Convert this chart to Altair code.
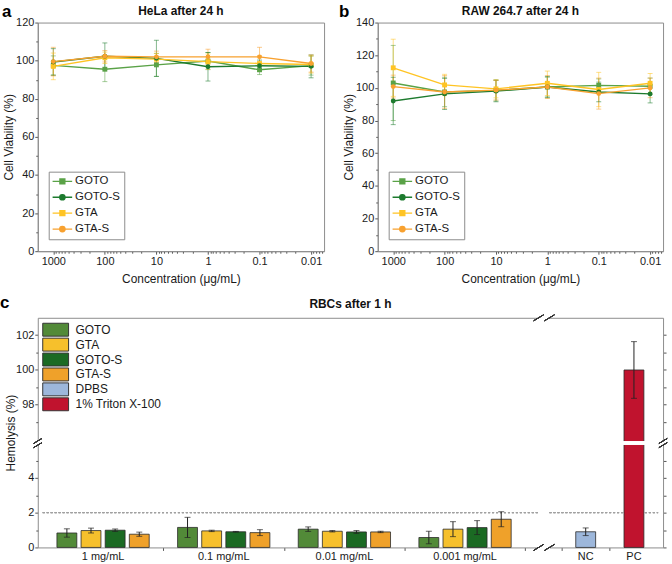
import altair as alt
import pandas as pd

FONT = "Liberation Sans"
FRAME = "#8c8c8c"
INK = "#1a1a1a"

# ---------------------------------------------------------------- viability
concentrations = [1000, 100, 10, 1, 0.1, 0.01]
series_names = ["GOTO", "GOTO-S", "GTA", "GTA-S"]
series_colors = ["#5aa247", "#1d7b2e", "#ffc424", "#f8a12f"]
square_series = ["GOTO", "GTA"]

# HeLa, 24 h (mean and s.d., %)
hela_goto = [97.5, 95.5, 97.8, 99.8, 95.2, 97.4]
hela_goto_sd = [5.0, 6.5, 6.0, 4.5, 2.5, 5.0]
hela_goto_s = [99.3, 102.3, 101.2, 96.8, 97.3, 97.0]
hela_goto_s_sd = [7.0, 7.0, 9.5, 7.5, 3.0, 6.0]
hela_gta = [97.0, 101.5, 100.8, 99.5, 98.5, 98.0]
hela_gta_sd = [7.0, 3.0, 3.0, 4.0, 4.0, 4.5]
hela_gta_s = [99.5, 102.3, 102.0, 102.0, 102.0, 98.5]
hela_gta_s_sd = [7.5, 3.0, 3.0, 4.0, 5.0, 4.5]

# RAW 264.7, 24 h (mean and s.d., %)
raw_goto = [103.0, 97.5, 98.5, 100.5, 101.5, 101.0]
raw_goto_sd = [23.0, 9.0, 6.5, 6.0, 4.0, 5.0]
raw_goto_s = [92.0, 96.3, 98.0, 100.5, 97.5, 96.3]
raw_goto_s_sd = [14.5, 9.5, 6.5, 6.5, 6.0, 5.5]
raw_gta = [112.3, 101.8, 99.4, 102.8, 99.0, 102.8]
raw_gta_sd = [17.5, 6.5, 5.5, 7.5, 10.5, 6.0]
raw_gta_s = [100.8, 97.5, 98.6, 100.5, 96.5, 100.0]
raw_gta_s_sd = [7.0, 10.0, 6.0, 7.0, 9.5, 6.0]

# ---------------------------------------------------------------- hemolysis
dose_labels = ["1 mg/mL", "0.1 mg/mL", "0.01 mg/mL", "0.001 mg/mL"]
control_labels = ["NC", "PC"]
hemo_series = ["GOTO", "GTA", "GOTO-S", "GTA-S"]
control_series = ["DPBS", "1% Triton X-100"]
hemo_colors = ["#528a38", "#f6c02c", "#1b6a23", "#efa12a", "#9db7db", "#c0132e"]

hemo_goto = [0.83, 1.15, 1.05, 0.57]
hemo_goto_sd = [0.24, 0.58, 0.13, 0.36]
hemo_gta = [0.97, 0.95, 0.93, 1.05]
hemo_gta_sd = [0.14, 0.04, 0.04, 0.43]
hemo_goto_s = [0.99, 0.90, 0.89, 1.14]
hemo_goto_s_sd = [0.07, 0.02, 0.08, 0.40]
hemo_gta_s = [0.76, 0.85, 0.89, 1.62]
hemo_gta_s_sd = [0.12, 0.17, 0.04, 0.43]
control_mean = [0.90, 100.0]
control_sd = [0.22, 1.63]

# panel sizes (plot areas)
H_TOP = 230
W_A = 288
W_B = 287
W_C = 629
H_C = 231

# broken y axis of the hemolysis panel: values above BREAK_AT are shifted down
BREAK_AT = 6.0
SHIFT = 89.8
Y_TOP_C = 103.0 - SHIFT
GAP_LO, GAP_HI = 20.55, 21.0   # x-axis break between doses and controls


def viability_frame(means, sds):
    rows = []
    for name, m, s in zip(series_names, means, sds):
        for c, v, e in zip(concentrations, m, s):
            rows.append({"series": name, "conc": c, "mean": v, "lo": v - e, "hi": v + e})
    return pd.DataFrame(rows)


hela_df = viability_frame([hela_goto, hela_goto_s, hela_gta, hela_gta_s],
                          [hela_goto_sd, hela_goto_s_sd, hela_gta_sd, hela_gta_s_sd])
raw_df = viability_frame([raw_goto, raw_goto_s, raw_gta, raw_gta_s],
                         [raw_goto_sd, raw_goto_s_sd, raw_gta_sd, raw_gta_s_sd])

# minor ticks of the log axis (2..9 x each decade)
minor_log = [k * 10.0 ** e for e in range(-3, 3) for k in range(2, 10)]
minor_log = [v for v in minor_log if 0.0056 <= v <= 2000]

SQ_KEY = "M-2.2,0H2.2M-0.55,-0.55H0.55V0.55H-0.55Z"
CI_KEY = "M-2.2,0H2.2M0.6,0A0.6,0.6,0,1,1,-0.6,0A0.6,0.6,0,1,1,0.6,0Z"
key_paths = [SQ_KEY, CI_KEY, SQ_KEY, CI_KEY]


def heading(letter, title, width, tag_dx, tag_base, title_y):
    """Bold panel letter at the top-left and the panel title centred above the plot."""
    one = pd.DataFrame({"tag": [letter], "title": [title]})
    tag = alt.Chart(one).mark_text(
        font=FONT, fontSize=17, fontWeight="bold", align="left", baseline="alphabetic",
        color="#000"
    ).encode(text="tag:N", x=alt.value(tag_dx), y=alt.value(tag_base))
    head = alt.Chart(one).mark_text(
        font=FONT, fontSize=12, fontWeight="bold", align="center", baseline="middle",
        color="#111"
    ).encode(text="title:N", x=alt.value(width / 2), y=alt.value(title_y))
    return [tag, head]


def viability_panel(df, title, ymax, letter, width, tag_dx):
    xs = alt.Scale(type="log", domain=[0.0056, 2000], reverse=True, nice=False)
    ys = alt.Scale(domain=[0, ymax], nice=False)
    cs = alt.Scale(domain=series_names, range=series_colors)
    color_plain = alt.Color("series:N", scale=cs, legend=None)
    x_plain = alt.X("conc:Q", scale=xs, axis=None)
    y_plain = alt.Y("mean:Q", scale=ys, axis=None)
    base = alt.Chart(df)

    key_legend = alt.Legend(
        title=None, orient="none", legendX=11, legendY=150, strokeColor=FRAME, padding=4,
        labelFontSize=11.5, symbolSize=80, symbolStrokeWidth=1.4, rowPadding=3,
        symbolOffset=4, labelOffset=7,
    )

    # legend entries only (no rows reach the plot)
    key = base.transform_filter("false").mark_point(
        filled=True, opacity=1, strokeWidth=1.4
    ).encode(
        x=x_plain, y=y_plain,
        color=alt.Color("series:N", scale=cs, legend=key_legend),
        stroke=alt.Stroke("series:N", scale=cs, legend=key_legend),
        shape=alt.Shape("series:N", scale=alt.Scale(domain=series_names, range=key_paths),
                        legend=key_legend),
    )

    whiskers = base.mark_rule(strokeWidth=1, opacity=0.55).encode(
        x=alt.X("conc:Q", scale=xs, axis=alt.Axis(
            orient="bottom", values=minor_log, labels=False, domain=False,
            tickSize=2, title=None, grid=False)),
        y=alt.Y("lo:Q", scale=ys, axis=alt.Axis(
            orient="left", values=list(range(10, ymax, 20)), labels=False,
            domain=False, tickSize=2, title=None, grid=False)),
        y2="hi:Q",
        color=color_plain,
    )
    caps = base.transform_fold(["lo", "hi"], as_=["end", "val"]).mark_tick(
        orient="horizontal", size=5, thickness=1, opacity=0.55
    ).encode(x=x_plain, y=alt.Y("val:Q", scale=ys, axis=None), color=color_plain)

    lines = base.mark_line(strokeWidth=1.4).encode(
        x=alt.X("conc:Q", scale=xs, title="Concentration (μg/mL)", axis=alt.Axis(
            orient="bottom", values=concentrations, format="~g", tickSize=3,
            grid=False, labelFlush=False, titlePadding=8)),
        y=alt.Y("mean:Q", scale=ys, title="Cell Viability (%)", axis=alt.Axis(
            orient="left", values=list(range(0, ymax + 1, 20)), tickSize=3, grid=False)),
        color=color_plain,
    )
    squares = base.transform_filter(
        alt.FieldOneOfPredicate(field="series", oneOf=square_series)
    ).mark_point(shape="square", filled=True, size=24, opacity=1).encode(
        x=x_plain, y=y_plain, color=color_plain)
    circles = base.transform_filter(
        {"not": alt.FieldOneOfPredicate(field="series", oneOf=square_series)}
    ).mark_point(shape="circle", filled=True, size=24, opacity=1).encode(
        x=x_plain, y=y_plain, color=color_plain)

    return alt.layer(
        key, whiskers, caps, lines, squares, circles,
        *heading(letter, title, width, tag_dx, -6, -12),
    ).resolve_axis(x="independent", y="independent").properties(
        width=width, height=H_TOP
    )


panel_a = viability_panel(hela_df, "HeLa after 24 h", 120, "a", W_A, -36)
panel_b = viability_panel(raw_df, "RAW 264.7 after 24 h", 140, "b", W_B, -39)

# ---------------------------------------------------------------- hemolysis panel
hemo_rows = []
for g, label in enumerate(dose_labels):
    for slot, (name, means, sds) in enumerate(zip(
            hemo_series,
            [hemo_goto, hemo_gta, hemo_goto_s, hemo_gta_s],
            [hemo_goto_sd, hemo_gta_sd, hemo_goto_s_sd, hemo_gta_s_sd])):
        hemo_rows.append({"sample": name, "g": g, "slot": slot, "mean": means[g], "sd": sds[g]})
for i, name in enumerate(control_series):
    hemo_rows.append({"sample": name, "g": len(dose_labels) + i, "slot": 0,
                      "mean": control_mean[i], "sd": control_sd[i]})
hemo_df = pd.DataFrame(hemo_rows)

group_df = pd.DataFrame({"label": dose_labels + control_labels,
                         "g": list(range(len(dose_labels) + len(control_labels)))})

# x layout: 5 units per dose group (bars at 1..4), then the break, then 2 units per control
POS = "datum.g < 4 ? 5 * datum.g + datum.slot + 1 : 21.5 + 2 * (datum.g - 4) + 1"


def brk(e):
    return f"({e}) > {BREAK_AT} ? ({e}) - {SHIFT} : ({e})"


xs_c = alt.Scale(domain=[0, 25.5], nice=False, zero=False)
ys_c = alt.Scale(domain=[0, Y_TOP_C], nice=False)

major_c = [0, 2, 4] + [v - SHIFT for v in (98, 100, 102)]
minor_c = [1, 3, 5] + [v - SHIFT for v in (97, 99, 101)]
label_c = (f"datum.value > {BREAK_AT} ? format(datum.value + {SHIFT}, 'd') : "
           f"format(datum.value, 'd')")

hemo_base = alt.Chart(hemo_df).transform_calculate(
    pos=POS,
    y_mean=brk("datum.mean"),
    y_lo=brk("datum.mean - datum.sd"),
    y_hi=brk("datum.mean + datum.sd"),
)
xc_plain = alt.X("pos:Q", scale=xs_c, axis=None)

bar_legend = alt.Legend(
    title=None, orient="none", legendX=5, legendY=6, padding=0,
    symbolType="M-5.2,-2.6H5.2V2.6H-5.2Z", symbolSize=25, symbolStrokeColor="#333",
    symbolStrokeWidth=1, labelFontSize=12, rowPadding=-3, symbolOffset=7, labelOffset=14,
)

bars = hemo_base.mark_bar(size=20, stroke="#2a2a2a", strokeWidth=0.8).encode(
    x=alt.X("pos:Q", scale=xs_c, title=None, axis=alt.Axis(
        orient="bottom", values=[5, 10, 15, 20, 21.5, 23.5], labels=False,
        tickSize=3, grid=False)),
    y=alt.Y("y_mean:Q", scale=ys_c, title="Hemolysis (%)", axis=alt.Axis(
        orient="left", values=major_c, labelExpr=label_c, tickSize=3, grid=False,
        titlePadding=-2)),
    color=alt.Color("sample:N", scale=alt.Scale(domain=hemo_series + control_series,
                                                range=hemo_colors), legend=bar_legend),
)
hemo_whiskers = hemo_base.mark_rule(color="#222", strokeWidth=1).encode(
    x=xc_plain,
    y=alt.Y("y_lo:Q", scale=ys_c, axis=alt.Axis(
        orient="left", values=minor_c, labels=False, domain=False, tickSize=2,
        title=None, grid=False)),
    y2="y_hi:Q",
)
hemo_caps = hemo_base.transform_fold(["y_lo", "y_hi"], as_=["end", "val"]).mark_tick(
    orient="horizontal", size=6, thickness=1, color="#222"
).encode(
    x=alt.X("pos:Q", scale=xs_c, axis=alt.Axis(
        orient="top", labels=False, ticks=False, domain=True, title=None, grid=False)),
    y=alt.Y("val:Q", scale=ys_c, axis=alt.Axis(
        orient="right", values=sorted(major_c + minor_c), labels=False, tickSize=3,
        title=None, grid=False)),
)

# 2 % reference line, interrupted at the x break
ref_lines = [
    alt.Chart(group_df).mark_rule(strokeDash=[2, 2], color="#a0a0a0", strokeWidth=1).encode(
        x=alt.XDatum(x0, scale=xs_c, axis=None), x2=alt.X2Datum(x1),
        y=alt.YDatum(2, scale=ys_c, axis=None))
    for x0, x1 in [(0, GAP_LO), (GAP_HI, 25.5)]
]

# white gaps for the axis breaks
cut_y = alt.Chart(group_df).mark_rect(color="white").encode(
    x=alt.value(-3), x2=alt.value(W_C + 4),
    y=alt.YDatum(BREAK_AT + 0.09, scale=ys_c, axis=None), y2=alt.Y2Datum(BREAK_AT - 0.09))
cut_x = [
    alt.Chart(group_df).mark_rect(color="white").encode(
        x=alt.XDatum(GAP_LO, scale=xs_c, axis=None), x2=alt.X2Datum(GAP_HI),
        y=alt.value(yy - 2), y2=alt.value(yy + 2))
    for yy in (0, H_C)
]
SLASH = "M-1,0.6L1,-0.6"
slashes = []
for xv in (GAP_LO, GAP_HI):
    for yy in (0, H_C):
        slashes.append(alt.Chart(group_df).mark_point(
            shape=SLASH, size=100, filled=False, strokeWidth=1, color="#333", opacity=1
        ).encode(x=alt.XDatum(xv, scale=xs_c, axis=None), y=alt.value(yy)))
for xx in (0, W_C):
    for yv in (BREAK_AT + 0.12, BREAK_AT - 0.12):
        slashes.append(alt.Chart(group_df).mark_point(
            shape=SLASH, size=70, filled=False, strokeWidth=1, color="#333", opacity=1
        ).encode(x=alt.value(xx), y=alt.YDatum(yv, scale=ys_c, axis=None)))

group_text = alt.Chart(group_df).transform_calculate(slot="1.5", pos=POS).mark_text(
    font=FONT, fontSize=11, baseline="top", color=INK
).encode(x=xc_plain, y=alt.value(H_C + 4), text="label:N")

panel_c = alt.layer(
    *ref_lines, bars, hemo_whiskers, hemo_caps, cut_y, *cut_x, *slashes, group_text,
    *heading("c", "RBCs after 1 h", W_C, -38, -10, -14),
).resolve_axis(x="independent", y="independent").properties(
    width=W_C, height=H_C, view=alt.ViewBackground(stroke=None)
)

top_row = alt.hconcat(panel_a, panel_b, spacing=13).resolve_scale(
    color="independent", stroke="independent", shape="independent")

chart = alt.vconcat(top_row, panel_c, spacing=8).resolve_scale(
    color="independent", stroke="independent", shape="independent"
).properties(
    padding={"left": 0, "top": 0, "right": 2, "bottom": 2}
).configure(font=FONT).configure_view(
    stroke=FRAME, strokeWidth=1
).configure_axis(
    domainColor=FRAME, tickColor="#555555", labelColor=INK, titleColor=INK,
    labelFont=FONT, titleFont=FONT, labelFontSize=11, titleFontSize=12,
    titleFontWeight="normal", labelPadding=1, titlePadding=0, grid=False,
).configure_legend(
    labelFont=FONT, labelColor=INK
)

chart.save("out.html", embed_options={"renderer": "svg", "actions": False})
